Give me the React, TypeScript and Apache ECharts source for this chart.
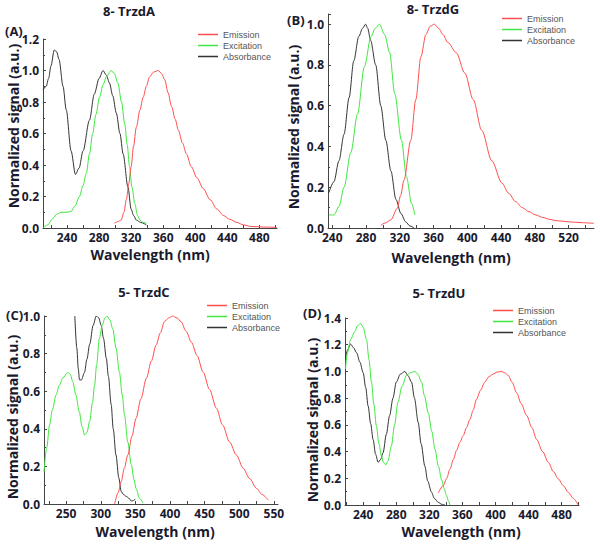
import React, { useEffect, useRef } from "react";
import * as echarts from "echarts";

// ---- Panel A: 8-TrzdA ----
const absA: [number, number][] = [[210,0.876],[214,0.9],[217,0.95],[220,1.03],[224,1.13],[227,1.12],[230,1.07],[235,0.9],[239,0.75],[245,0.49],[250.5,0.34],[255,0.38],[260,0.49],[268,0.685],[274,0.85],[280,0.95],[285,1.0],[289,0.97],[293,0.92],[297,0.84],[301.5,0.73],[306,0.6],[310,0.47],[316,0.26],[320,0.12],[323,0.08],[326.5,0.05],[332,0.035],[339,0.02]];
const excA: [number, number][] = [[210,0.0],[216,0.02],[222,0.06],[228,0.09],[232.5,0.1],[240,0.1],[245,0.105],[250,0.14],[255.5,0.2],[260,0.27],[264,0.345],[268,0.47],[272,0.6],[276,0.72],[280.5,0.83],[285,0.91],[289,0.96],[295,1.0],[299,0.98],[303.5,0.92],[308,0.8],[312,0.66],[315,0.53],[318,0.39],[321,0.26],[324.5,0.155],[328,0.08],[331,0.05],[335,0.035],[339,0.03]];
const emiA: [number, number][] = [[299,0.03],[303,0.04],[307.5,0.05],[311,0.1],[314,0.18],[317,0.28],[320,0.39],[323,0.52],[326.5,0.64],[331,0.75],[335,0.83],[339,0.9],[343,0.96],[348,0.99],[354,1.0],[358,0.98],[362,0.94],[366,0.86],[370.5,0.77],[375,0.69],[379,0.62],[384,0.54],[389,0.47],[395,0.39],[402,0.32],[410,0.25],[418.5,0.18],[427,0.12],[435,0.08],[443,0.055],[452,0.035],[460,0.02],[469,0.01],[485,0.006],[502,0.004]];

// ---- Panel B: 8-TrzdG ----
const absB: [number, number][] = [[236,0.173],[242,0.227],[248,0.33],[254,0.46],[260,0.64],[265.5,0.82],[271.5,0.94],[276,0.98],[279.5,1.0],[282,0.98],[285.5,0.92],[291.5,0.8],[297.5,0.6],[303.5,0.43],[309.5,0.28],[315.5,0.14],[321.5,0.07],[327,0.03],[332,0.01],[337,0.0]];
const excB: [number, number][] = [[236,0.064],[242,0.064],[248,0.105],[254,0.2],[262,0.37],[270,0.56],[278,0.79],[286,0.94],[291,0.98],[296,1.0],[302,0.95],[308,0.86],[314,0.66],[322,0.43],[328,0.25],[334,0.12],[338,0.064]];
const emiB: [number, number][] = [[297.5,0.013],[303,0.025],[309.5,0.04],[317,0.096],[321,0.16],[325,0.235],[333,0.43],[339,0.63],[345,0.84],[351,0.95],[356,0.99],[361,1.0],[366,0.98],[371,0.95],[377,0.91],[387,0.86],[397,0.76],[407,0.63],[417,0.48],[429,0.33],[441,0.22],[449,0.17],[457,0.13],[465,0.1],[473,0.08],[481,0.064],[489,0.052],[497,0.043],[505,0.036],[521,0.03],[536,0.026],[550,0.023]];

// ---- Panel C: 5-TrzdC ----
const absC: [number, number][] = [[262.5,1.0],[265.4,0.83],[267.5,0.72],[269.3,0.66],[272,0.66],[276.5,0.7],[280,0.77],[284,0.85],[289,0.95],[293.4,1.0],[297,0.99],[300.6,0.95],[304,0.88],[308,0.775],[311,0.68],[315,0.53],[318,0.4],[322,0.26],[326,0.14],[329.6,0.066],[333,0.05],[337,0.04],[341,0.03],[344,0.016],[347,0.018],[350,0.027]];
const excC: [number, number][] = [[218,0.17],[222,0.3],[226,0.42],[230,0.5],[235.5,0.58],[240,0.63],[245,0.67],[252.4,0.7],[256,0.69],[259.6,0.65],[264,0.58],[269,0.49],[273,0.41],[276.5,0.367],[280,0.38],[284,0.44],[288,0.54],[291,0.63],[294,0.74],[298,0.88],[302,0.95],[306,0.99],[309,1.0],[313,0.98],[317.5,0.93],[322,0.83],[327,0.7],[331,0.58],[334.4,0.47],[339,0.33],[344,0.21],[348,0.13],[351,0.083],[356,0.03],[361,0.005]];
const emiC: [number, number][] = [[320,0.0],[325,0.06],[329.6,0.12],[334,0.19],[339,0.26],[345,0.36],[351,0.456],[358,0.56],[366,0.67],[373,0.76],[380,0.846],[386,0.91],[392,0.97],[398,0.99],[404,1.0],[410,0.99],[416,0.97],[423,0.92],[431,0.86],[439,0.79],[448,0.7],[457,0.61],[467,0.51],[476,0.42],[486,0.33],[496,0.26],[505.7,0.19],[515,0.135],[525,0.083],[533,0.05],[542,0.02]];

// ---- Panel D: 5-TrzdU ----
const absD: [number, number][] = [[218.6,1.09],[221,1.16],[224.7,1.205],[228,1.18],[232,1.14],[236,1.07],[240,0.99],[243,0.88],[246,0.74],[249,0.61],[252,0.49],[255,0.38],[258,0.32],[261,0.34],[264,0.39],[268,0.53],[272,0.67],[276,0.8],[280,0.92],[285,0.98],[290.4,1.0],[294,0.97],[298.5,0.92],[302,0.8],[306.5,0.62],[310,0.46],[314.6,0.29],[318,0.18],[322.7,0.095],[326,0.05],[330.8,0.02],[335,0.005],[338.8,0.0]];
const excD: [number, number][] = [[218.6,1.02],[221,1.14],[224.7,1.24],[230,1.3],[233,1.34],[236.8,1.36],[240,1.33],[244,1.24],[247,1.09],[250,0.92],[253,0.75],[256,0.59],[259,0.46],[262,0.37],[264.5,0.32],[267.4,0.3],[270,0.33],[274,0.44],[278,0.6],[282,0.77],[287,0.89],[292.4,0.97],[297,0.99],[302.5,1.0],[306,0.98],[310.6,0.92],[314,0.82],[318.7,0.69],[323,0.55],[326.7,0.42],[331,0.29],[334.8,0.19],[338,0.12],[340.8,0.07],[343,0.03],[345,0.0]];
const emiD: [number, number][] = [[330.8,0.09],[336.8,0.145],[341,0.2],[345,0.27],[349,0.34],[353,0.41],[357,0.47],[361,0.52],[365,0.58],[369,0.64],[373,0.71],[377,0.79],[382,0.86],[387,0.92],[392,0.96],[397,0.98],[402,0.995],[407.4,1.0],[411,0.99],[415.5,0.97],[420,0.92],[425.6,0.84],[431,0.76],[437.7,0.67],[444,0.58],[449.8,0.49],[457,0.4],[463.9,0.32],[470,0.25],[476,0.195],[482,0.145],[488,0.095],[494,0.05],[500,0.0]];

const titles = ["8- TrzdA", "8- TrzdG", "5- TrzdC", "5- TrzdU"];
const panelLabels = ["(A)", "(B)", "(C)", "(D)"];
const seriesNames = ["Emission", "Excitation", "Absorbance"];
const xLabelsA = [240, 280, 320, 360, 400, 440, 480];
const xLabelsB = [240, 280, 320, 360, 400, 440, 480, 520];
const xLabelsC = [250, 300, 350, 400, 450, 500, 550];
const xLabelsD = [240, 280, 320, 360, 400, 440, 480];

const RED = "#ff4d4d";
const GREEN = "#3ee83e";
const BLACK = "#333333";
const TXT = "#1a1a2e";
const FONT = "'Open Sans', 'Noto Sans', sans-serif";

type Panel = {
  grid: { left: number; top: number; width: number; height: number };
  xMin: number; xMax: number; yMax: number;
  xLabels: number[]; xStep: number;
  data: [number, number][][];
  title: [number, number]; label: [number, number];
  yName: [number, number]; xName: [number, number];
  legend: [number, number];
};

const panels: Panel[] = [
  { grid: { left: 43, top: 39, width: 234, height: 189 }, xMin: 210, xMax: 502, yMax: 1.2, xLabels: xLabelsA, xStep: 20,
    data: [emiA, excA, absA], title: [129, 11], label: [5, 31], yName: [13, 126], xName: [150, 254], legend: [198, 29] },
  { grid: { left: 328, top: 14, width: 266, height: 214 }, xMin: 235, xMax: 550, yMax: 1.05, xLabels: xLabelsB, xStep: 20,
    data: [emiB, excB, absB], title: [433, 9], label: [287, 20], yName: [293, 127], xName: [451, 257], legend: [502, 13] },
  { grid: { left: 44, top: 316, width: 234, height: 188 }, xMin: 218, xMax: 556, yMax: 1.0, xLabels: xLabelsC, xStep: 25,
    data: [emiC, excC, absC], title: [144, 292], label: [6, 315], yName: [12, 417], xName: [155, 531], legend: [207, 300] },
  { grid: { left: 345, top: 318, width: 234, height: 187 }, xMin: 218, xMax: 501, yMax: 1.4, xLabels: xLabelsD, xStep: 20,
    data: [emiD, excD, absD], title: [439, 293], label: [303, 313], yName: [312, 420], xName: [461, 531], legend: [493, 305] },
];

export default function App() {
  const ref = useRef<HTMLDivElement>(null);
  useEffect(() => {
    if (!ref.current) return;
    const chart = echarts.init(ref.current, undefined, { renderer: "svg" });
    const colors = [RED, GREEN, BLACK];
    const grids: any[] = [];
    const xAxes: any[] = [];
    const yAxes: any[] = [];
    const series: any[] = [];
    const legends: any[] = [];
    const graphics: any[] = [];
    panels.forEach((p, i) => {
      grids.push({ ...p.grid, containLabel: false });
      const tickVals: number[] = [];
      for (let v = p.xLabels[0] - p.xStep * 2; v <= p.xMax; v += p.xStep) if (v >= p.xMin) tickVals.push(v);
      xAxes.push({
        type: "value", gridIndex: i, min: p.xMin, max: p.xMax,
        axisLine: { show: true, lineStyle: { color: "#444", width: 1 } },
        axisTick: { show: true, inside: true, length: 3, customValues: tickVals, lineStyle: { color: "#444" } },
        axisLabel: { customValues: p.xLabels, color: TXT, fontWeight: "bold", fontSize: 12, lineHeight: 12, fontFamily: FONT, margin: 3 },
        splitLine: { show: false },
      });
      yAxes.push({
        type: "value", gridIndex: i, min: 0, max: p.yMax, interval: 0.2,
        axisLine: { show: true, lineStyle: { color: "#444", width: 1 } },
        axisTick: { show: true, inside: true, length: 3, lineStyle: { color: "#444" } },
        minorTick: { show: true, splitNumber: 2, length: 2, lineStyle: { color: "#444" } },
        axisLabel: { color: TXT, fontWeight: "bold", fontSize: 12, fontFamily: FONT, margin: 4, formatter: (v: number) => v.toFixed(1) },
        splitLine: { show: false },
      });
      p.data.forEach((d, k) => {
        series.push({
          type: "line", name: seriesNames[k], xAxisIndex: i, yAxisIndex: i, data: d,
          symbol: "none", smooth: 0.3, smoothMonotone: "x",
          lineStyle: { color: colors[k], width: 1 }, itemStyle: { color: colors[k] },
          z: 3 - k,
        });
      });
      legends.push({
        orient: "vertical", left: p.legend[0], top: p.legend[1], data: seriesNames,
        icon: "rect", itemWidth: 20, itemHeight: 1.5, itemGap: 0, padding: 0,
        textStyle: { fontSize: 9, lineHeight: 11, color: "#555", fontFamily: "'Liberation Sans', Arial, sans-serif" },
        selectedMode: false,
      });
      graphics.push({ type: "text", x: p.title[0], y: p.title[1], style: { text: titles[i], textAlign: "center", textVerticalAlign: "middle", font: `bold 13px ${FONT}`, fill: TXT } });
      graphics.push({ type: "text", x: p.label[0], y: p.label[1], style: { text: panelLabels[i], textAlign: "left", textVerticalAlign: "middle", font: `bold 13px ${FONT}`, fill: TXT } });
      graphics.push({ type: "text", x: p.yName[0], y: p.yName[1], rotation: Math.PI / 2, style: { text: "Normalized signal (a.u.)", textAlign: "center", textVerticalAlign: "middle", font: `bold 14px ${FONT}`, fill: TXT } });
      graphics.push({ type: "text", x: p.xName[0], y: p.xName[1], style: { text: "Wavelength (nm)", textAlign: "center", textVerticalAlign: "middle", font: `bold 14px ${FONT}`, fill: TXT } });
    });
    chart.setOption({
      animation: false,
      backgroundColor: "#ffffff",
      grid: grids, xAxis: xAxes, yAxis: yAxes, series, legend: legends, graphic: graphics,
    });
    return () => chart.dispose();
  }, []);
  return <div ref={ref} style={{ position: "fixed", left: 0, top: 0, width: 600, height: 544 }} />;
}
